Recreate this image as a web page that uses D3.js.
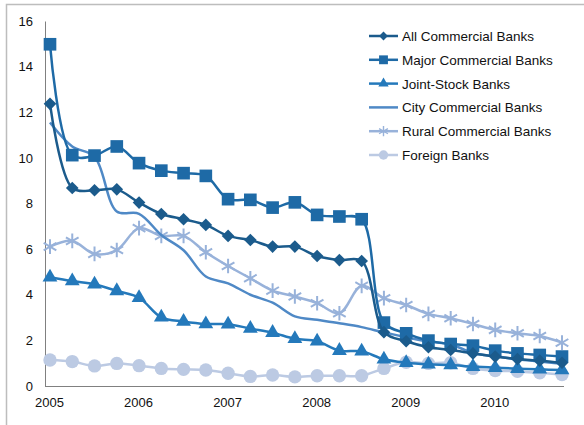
<!DOCTYPE html>
<html>
<head>
<meta charset="utf-8">
<script src="https://d3js.org/d3.v7.min.js"></script>
<style>
    body { margin: 0; background: #fff; }
    * { font-family: 'Liberation Sans', Arial, sans-serif; }
    .tick text { font-size: 13px; fill: #111; }
</style>
</head>
<body>
<svg id="chart" width="584" height="425"></svg>
<script>
// quarterly observations, 2005 Q1 .. 2010 Q4
var quarters = d3.range(24);
var yearLabels = ["2005", "2006", "2007", "2008", "2009", "2010"];
var yTicks = [0, 2, 4, 6, 8, 10, 12, 14, 16];

var seriesNames = ["All Commercial Banks", "Major Commercial Banks", "Joint-Stock Banks",
                   "City Commercial Banks", "Rural Commercial Banks", "Foreign Banks"];

var allBanks = [12.37, 8.68, 8.58, 8.62, 8.04, 7.54, 7.31, 7.06, 6.58, 6.40, 6.11, 6.11,
                5.70, 5.52, 5.48, 2.36, 1.96, 1.70, 1.58, 1.43, 1.29, 1.18, 1.11, 1.02];
var majorBanks = [14.98, 10.12, 10.10, 10.50, 9.77, 9.44, 9.33, 9.21, 8.19, 8.16, 7.82, 8.05,
                  7.50, 7.43, 7.31, 2.78, 2.31, 1.99, 1.84, 1.77, 1.55, 1.43, 1.36, 1.29];
var jointStock = [4.77, 4.60, 4.46, 4.17, 3.87, 3.01, 2.83, 2.72, 2.71, 2.52, 2.34, 2.07,
                  1.96, 1.55, 1.52, 1.17, 1.02, 0.95, 0.92, 0.85, 0.80, 0.76, 0.73, 0.70];
var cityBanks = [11.55, 10.50, 10.05, 7.65, 7.55, 6.62, 5.95, 4.80, 4.50, 4.00, 3.65, 3.05,
                 2.90, 2.75, 2.58, 2.35, 2.14, 1.95, 1.82, 1.45, 1.30, 1.17, 1.07, 0.97];
var ruralBanks = [6.11, 6.36, 5.79, 5.96, 6.92, 6.58, 6.58, 5.86, 5.26, 4.72, 4.18, 3.92,
                  3.63, 3.19, 4.39, 3.85, 3.55, 3.16, 2.97, 2.72, 2.46, 2.31, 2.19, 1.90];
var foreignBanks = [1.14, 1.07, 0.88, 0.99, 0.89, 0.77, 0.73, 0.70, 0.56, 0.42, 0.48, 0.40,
                    0.45, 0.45, 0.45, 0.77, 1.04, 0.99, 1.02, 0.77, 0.68, 0.64, 0.58, 0.50];

var seriesValues = [allBanks, majorBanks, jointStock, cityBanks, ruralBanks, foreignBanks];
var colors = ["#1b5b8c", "#1e6aa6", "#2479bb", "#4f89c6", "#98b2da", "#bccae3"];
var markers = ["diamond", "square", "triangle", "none", "star", "circle"];

var svg = d3.select("#chart");

// outer frame (only top and left edges show in the crop)
svg.append("rect")
    .attr("x", 6.5).attr("y", 4.5)
    .attr("width", 700).attr("height", 600)
    .attr("fill", "none").attr("stroke", "#bdbdbd").attr("stroke-width", 1.5);

var x = d3.scaleLinear().domain([0, 23]).range([50, 562]);
var y = d3.scaleLinear().domain([0, 16]).range([386, 21]);

// y axis
var yAxis = svg.append("g")
    .attr("transform", "translate(45,0)")
    .call(d3.axisLeft(y).tickValues(yTicks).tickSize(0).tickPadding(12));
yAxis.select(".domain").attr("stroke", "#808080").attr("stroke-width", 1);

// x axis: one label at the first quarter of each year
var xAxis = svg.append("g")
    .attr("transform", "translate(0,386)")
    .call(d3.axisBottom(x).tickValues(yearLabels.map(function(d, i) { return i * 4; }))
        .tickFormat(function(d) { return yearLabels[d / 4]; })
        .tickSize(0).tickPadding(12));
xAxis.select(".domain").attr("d", "M45,0.5H564").attr("stroke", "#808080");
xAxis.selectAll(".tick text").attr("dx", -1);

var line = d3.line()
    .x(function(d, i) { return x(i); })
    .y(function(d) { return y(d); })
    .curve(d3.curveCatmullRom.alpha(0.5));

// square turned 45 degrees, as in the source chart
var wideDiamond = {
    draw: function(ctx, size) {
        var r = Math.sqrt(size / 2);
        ctx.moveTo(0, -r); ctx.lineTo(r, 0); ctx.lineTo(0, r); ctx.lineTo(-r, 0); ctx.closePath();
    }
};

function drawMarker(g, type, color) {
    var sym;
    if (type === "diamond") sym = d3.symbol(wideDiamond, 80);
    else if (type === "square") sym = d3.symbol(d3.symbolSquare, 160);
    else if (type === "triangle") sym = d3.symbol(d3.symbolTriangle, 95);
    else if (type === "circle") sym = d3.symbol(d3.symbolCircle, 140);
    else if (type === "star") sym = d3.symbol(d3.symbolAsterisk, 150);
    else return;
    var p = g.append("path").attr("d", sym);
    if (type === "star") {
        p.attr("fill", "none").attr("stroke", color).attr("stroke-width", 2);
    } else {
        p.attr("fill", color);
    }
}

// draw back to front so the darker series sit on top
for (var s = seriesValues.length - 1; s >= 0; s--) {
    var g = svg.append("g");
    g.append("path")
        .datum(seriesValues[s])
        .attr("fill", "none")
        .attr("stroke", colors[s])
        .attr("stroke-width", 2.5)
        .attr("d", line);
    g.selectAll("g.pt")
        .data(seriesValues[s])
        .enter()
        .append("g")
        .attr("class", "pt")
        .attr("transform", function(d, i) { return "translate(" + x(i) + "," + y(d) + ")"; })
        .each(function() { drawMarker(d3.select(this), markers[s], colors[s]); });
}

// legend
var legend = svg.append("g").attr("transform", "translate(369,36)");
seriesNames.forEach(function(name, i) {
    var row = legend.append("g").attr("transform", "translate(0," + (i * 23.8) + ")");
    row.append("line")
        .attr("x1", 0).attr("x2", 29)
        .attr("stroke", colors[i]).attr("stroke-width", 2.5);
    var m = row.append("g");
    drawMarker(m, markers[i], colors[i]);
    m.attr("transform", "translate(14.5,0) scale(0.7)");
    row.append("text")
        .attr("x", 33).attr("y", 5)
        .attr("font-size", "13.5px")
        .attr("fill", "#111")
        .text(name);
});
</script>
</body>
</html>
